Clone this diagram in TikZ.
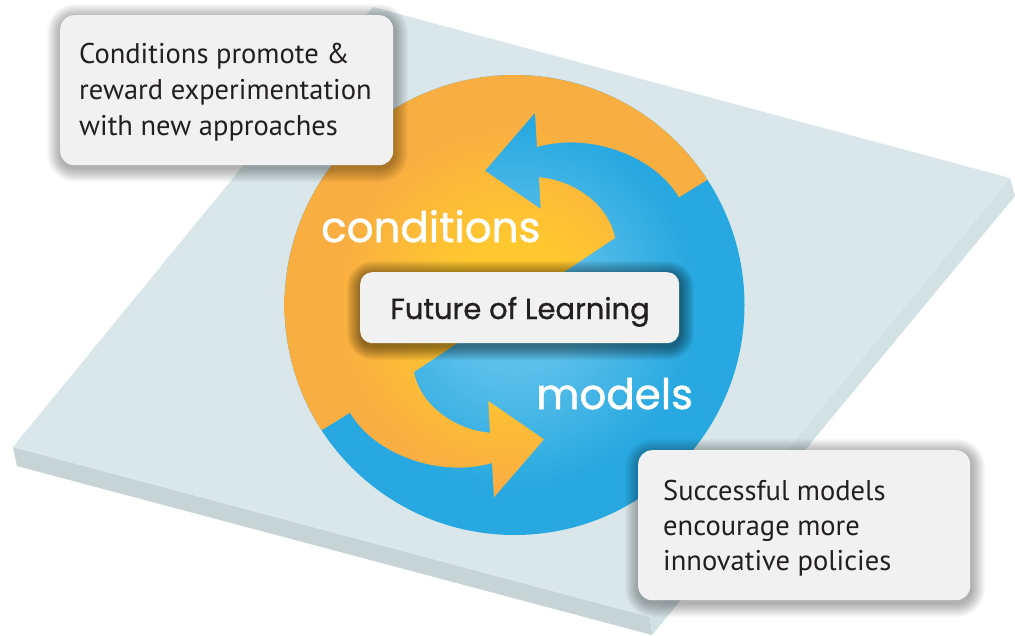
\documentclass[tikz,border=0pt]{standalone}
\usepackage{fontspec}
\setmainfont{PT Sans}
\newfontfamily\geofont[FakeBold=0.9]{Poppins}
\newfontfamily\geofontb[FakeBold=1.2]{Poppins}
\usetikzlibrary{calc}
\definecolor{slabtop}{HTML}{DAE7EA}
\definecolor{slableft}{HTML}{C6D4D6}
\definecolor{slabright}{HTML}{D2E1E4}
\definecolor{orin}{HTML}{FFC82E}
\definecolor{orout}{HTML}{F9AE42}
\definecolor{blin}{HTML}{5CC0EA}
\definecolor{blout}{HTML}{27A8E0}
\definecolor{boxfill}{HTML}{F1F1F1}
\definecolor{ink}{HTML}{231F20}
\pgfdeclareradialshading{orshade}{\pgfpoint{0bp}{0bp}}{color(0bp)=(orin); color(7bp)=(orin); color(20bp)=(orout); color(50bp)=(orout)}
\pgfdeclareradialshading{blshade}{\pgfpoint{0bp}{0bp}}{color(0bp)=(blin); color(7bp)=(blin); color(20bp)=(blout); color(50bp)=(blout)}
% soft shadow: x1 y1 x2 y2 corner-radius opacity-per-step
\newcommand\softshadow[6]{%
  \foreach \k in {1,...,14}{%
    \pgfmathsetmacro\rr{#5+\k}%
    \fill[black,opacity=#6,rounded corners=\rr pt] (#1-\k+1,#2-\k+3) rectangle (#3+\k+1,#4+\k+3);}}
\begin{document}
\begin{tikzpicture}[x=1pt,y=-1pt,
  note/.style={draw=none, fill=boxfill, rounded corners=14pt, inner sep=0pt, anchor=north west},
  notetext/.style={anchor=base west, inner sep=0pt, text=ink, font=\fontsize{28.5}{36}\selectfont},
  bigword/.style={anchor=base west, inner sep=0pt, text=white, font=\geofontb\fontsize{42}{48}\selectfont}]
\useasboundingbox (0,0) rectangle (1015,635);
\fill[white] (0,0) rectangle (1015,635);
% slab
\fill[slableft] (13,447) -- (650,617) -- (652,635) -- (17,466) -- cycle;
\fill[slabright] (1010,178) -- (1015,196) -- (652,635) -- (650,617) -- cycle;
\fill[slabtop] (373,7) -- (1010,178) -- (650,617) -- (13,447) -- cycle;
% cycle disc
\coordinate (C) at (514.5,305);
\coordinate (P1) at ($(C)+(147:230)$);
\shade[shading=blshade] (C) circle (230);
\begin{scope}
\clip (P1) arc[start angle=147,end angle=327,radius=230]
  -- (679,197.3) .. controls (654,155) and (589,132) .. (537,147)
  -- (535,112.7) -- (485,170.7) -- (540.7,209) -- (539,177.3)
  .. controls (574,180) and (609,205) .. (615,238)
  -- (414,372) .. controls (420,405) and (455,430) .. (490,432.7)
  -- (488.3,401) -- (544,439.3) -- (494,497.3) -- (492,463)
  .. controls (440,478) and (375,455) .. (350,412.7) -- cycle;
\shade[shading=orshade] (C) circle (230);
\end{scope}
\node[bigword] (cond) at (321,242) {conditions};
\node[bigword] (mod) at (536,409) {models};
% centre box
\softshadow{360}{272}{679}{343}{12}{0.035}
\node[note, rounded corners=12pt, minimum width=319pt, minimum height=71pt] (fbox) at (360,272) {};
\node[anchor=base, inner sep=0pt, text=ink, font=\geofont\fontsize{29}{34}\selectfont] (ftext) at (520,319) {Future of Learning};
% notes
\softshadow{60}{15}{393}{165}{14}{0.022}
\node[note, minimum width=333pt, minimum height=150pt] (lbox) at (60,15) {};
\node[notetext] (ltext) at (79,63) {\parbox[t]{320pt}{\raggedright Conditions promote \&\\reward experimentation\\with new approaches}};
\softshadow{638}{450}{970}{600}{14}{0.022}
\node[note, minimum width=332pt, minimum height=150pt] (rbox) at (638,450) {};
\node[notetext, font=\fontsize{28.5}{35}\selectfont] (rtext) at (663,500) {\parbox[t]{300pt}{\raggedright Successful models\\encourage more\\innovative policies}};
\end{tikzpicture}
\end{document}
